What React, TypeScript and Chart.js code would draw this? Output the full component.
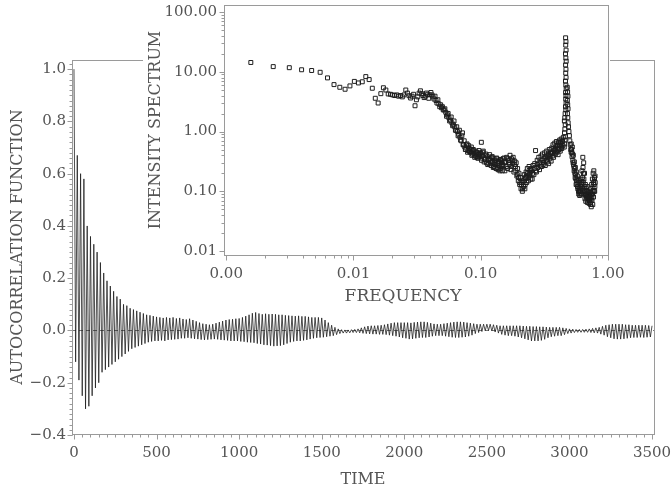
import React, { useEffect, useRef } from "react";
import { Chart, registerables } from "chart.js";

Chart.register(...registerables);

// ---------- Main chart: autocorrelation function ----------
const LAG_STEP = 10;
const acfValues = [
  1.0, -0.12, 0.67, -0.19, 0.60, -0.25, 0.58, -0.30, 0.40, -0.29,
  0.36, -0.25, 0.33, -0.22, 0.30, -0.20, 0.26, -0.16, 0.22, -0.15,
  0.19, -0.14, 0.17, -0.13, 0.15, -0.12, 0.13, -0.11, 0.12, -0.10,
  0.10, -0.09, 0.095, -0.08, 0.085, -0.07, 0.08, -0.065, 0.075, -0.06,
  0.07, -0.055, 0.065, -0.05, 0.06, -0.045, 0.058, -0.042, 0.055, -0.04,
  0.052, -0.04, 0.05, -0.038, 0.048, -0.04, 0.05, -0.036, 0.048, -0.035,
  0.05, -0.034, 0.046, -0.033, 0.048, -0.03, 0.044, -0.03, 0.042, -0.028,
  0.045, -0.03, 0.04, -0.032, 0.035, -0.033, 0.03, -0.035, 0.026, -0.036,
  0.024, -0.035, 0.022, -0.034, 0.024, -0.033, 0.028, -0.034, 0.032, -0.036,
  0.036, -0.037, 0.04, -0.038, 0.042, -0.04, 0.043, -0.04, 0.045, -0.04,
  0.046, -0.042, 0.05, -0.043, 0.055, -0.045, 0.06, -0.046, 0.066, -0.047,
  0.069, -0.05, 0.065, -0.052, 0.062, -0.055, 0.064, -0.056, 0.062, -0.058,
  0.063, -0.06, 0.062, -0.059, 0.06, -0.058, 0.06, -0.055, 0.058, -0.05,
  0.057, -0.045, 0.056, -0.042, 0.055, -0.04, 0.056, -0.04, 0.054, -0.038,
  0.054, -0.036, 0.052, -0.033, 0.05, -0.03, 0.05, -0.028, 0.05, -0.027,
  0.048, -0.026, 0.04, -0.024, 0.03, -0.022, 0.02, -0.02, 0.012, -0.016,
  0.006, -0.012, 0.003, -0.01, 0.002, -0.01, 0.002, -0.009, 0.003, -0.008,
  0.004, -0.008, 0.006, -0.009, 0.01, -0.011, 0.014, -0.012, 0.017, -0.013,
  0.018, -0.014, 0.018, -0.014, 0.019, -0.015, 0.02, -0.015, 0.022, -0.016,
  0.025, -0.018, 0.028, -0.02, 0.03, -0.022, 0.03, -0.025, 0.03, -0.028,
  0.03, -0.03, 0.03, -0.033, 0.029, -0.032, 0.031, -0.03, 0.032, -0.028,
  0.033, -0.027, 0.033, -0.027, 0.031, -0.025, 0.028, -0.022, 0.025, -0.02,
  0.024, -0.02, 0.024, -0.02, 0.026, -0.022, 0.028, -0.024, 0.03, -0.026,
  0.032, -0.027, 0.033, -0.027, 0.033, -0.026, 0.032, -0.025, 0.03, -0.022,
  0.028, -0.018, 0.026, -0.012, 0.024, -0.008, 0.024, -0.004, 0.024, -0.001,
  0.024, 0.0, 0.024, -0.002, 0.022, -0.006, 0.02, -0.01, 0.018, -0.015,
  0.018, -0.018, 0.018, -0.02, 0.018, -0.02, 0.018, -0.022, 0.018, -0.025,
  0.018, -0.028, 0.017, -0.032, 0.016, -0.036, 0.016, -0.04, 0.015, -0.04,
  0.015, -0.04, 0.014, -0.038, 0.014, -0.034, 0.013, -0.028, 0.012, -0.024,
  0.012, -0.022, 0.012, -0.02, 0.012, -0.02, 0.01, -0.016, 0.008, -0.012,
  0.006, -0.01, 0.005, -0.008, 0.004, -0.007, 0.004, -0.007, 0.004, -0.007,
  0.005, -0.007, 0.006, -0.008, 0.008, -0.009, 0.01, -0.01, 0.012, -0.014,
  0.016, -0.018, 0.02, -0.024, 0.022, -0.028, 0.024, -0.032, 0.024, -0.033,
  0.024, -0.033, 0.024, -0.032, 0.022, -0.03, 0.022, -0.028, 0.02, -0.027,
  0.02, -0.027, 0.02, -0.026, 0.02, -0.027, 0.02, -0.026, 0.019, -0.025,
  0.018,
];
const timeTicks = [0, 500, 1000, 1500, 2000, 2500, 3000, 3500];
const timeTickLabels = ["0", "500", "1000", "1500", "2000", "2500", "3000", "3500"];
const acfTicks = [-0.4, -0.2, 0, 0.2, 0.4, 0.6, 0.8, 1.0];
const acfTickLabels = ["\u22120.4", "\u22120.2", "0.0", "0.2", "0.4", "0.6", "0.8", "1.0"];

// ---------- Inset: intensity spectrum ----------
const specFreq = [
  // low frequencies
  0.00156, 0.00234, 0.00313, 0.00391, 0.00469, 0.00547, 0.00625, 0.00703, 0.00781, 0.00859,
  0.00938, 0.01016, 0.01094, 0.01172, 0.0125, 0.01328, 0.01406, 0.01484, 0.01563, 0.01641,
  0.01719, 0.01797, 0.01875, 0.01953, 0.02031, 0.02109, 0.02188, 0.02266, 0.02344, 0.02422,
  // 0.025 - 0.05
  0.025, 0.02578, 0.02656, 0.02734, 0.02813, 0.02891, 0.02969, 0.03047, 0.03125, 0.03203,
  0.03281, 0.03359, 0.03438, 0.03516, 0.03594, 0.03672, 0.0375, 0.03828, 0.03906, 0.03984,
  0.04063, 0.04141, 0.04219, 0.04297, 0.04375, 0.04453, 0.04531, 0.04609, 0.04688, 0.04766,
  0.04844, 0.04922,
  // 0.05 - 0.1
  0.05, 0.05156, 0.05313, 0.05469, 0.05625, 0.05781, 0.05938, 0.06094, 0.0625, 0.06406,
  0.06563, 0.06719, 0.06875, 0.07031, 0.07188, 0.07344, 0.075, 0.07656, 0.07813, 0.07969,
  0.08125, 0.08281, 0.08438, 0.08594, 0.0875, 0.08906, 0.09063, 0.09219, 0.09375, 0.09531,
  0.09688, 0.09844,
  // 0.1 - 0.15
  0.1012, 0.1, 0.1016, 0.1032, 0.1048, 0.1064, 0.108, 0.1096, 0.1112, 0.1128,
  0.1144, 0.116, 0.1176, 0.1192, 0.1208, 0.1224, 0.124, 0.1256, 0.1272, 0.1288,
  0.1304, 0.132, 0.1336, 0.1352, 0.1368, 0.1384, 0.14, 0.1416, 0.1432, 0.1448,
  0.1464, 0.148, 0.1496,
  // 0.15 - 0.25
  0.15, 0.1525, 0.155, 0.1575, 0.16, 0.1625, 0.165, 0.1675, 0.17, 0.1725,
  0.175, 0.1775, 0.18, 0.1825, 0.185, 0.1875, 0.19, 0.1925, 0.195, 0.1975,
  0.2, 0.2025, 0.205, 0.2075, 0.21, 0.2125, 0.215, 0.2175, 0.22, 0.2225,
  0.225, 0.2275, 0.23, 0.2325, 0.235, 0.2375, 0.24, 0.2425, 0.245, 0.2475,
  // 0.25 - 0.45
  0.25, 0.254, 0.258, 0.262, 0.266, 0.27, 0.274, 0.278, 0.282, 0.286,
  0.29, 0.294, 0.298, 0.302, 0.306, 0.31, 0.314, 0.318, 0.322, 0.326,
  0.33, 0.334, 0.338, 0.342, 0.346, 0.35, 0.354, 0.358, 0.362, 0.366,
  0.37, 0.374, 0.378, 0.382, 0.386, 0.39, 0.394, 0.398, 0.402, 0.406,
  0.41, 0.414, 0.418, 0.422, 0.426, 0.43, 0.434, 0.438, 0.442, 0.446,
  // peak, rising side
  0.465, 0.468, 0.466, 0.469, 0.464, 0.467, 0.47, 0.465, 0.468, 0.466,
  0.469, 0.464, 0.467, 0.47, 0.465, 0.468, 0.466, 0.469, 0.464, 0.467,
  0.461, 0.458, 0.455, 0.462, 0.459, 0.456, 0.463, 0.46, 0.457, 0.454,
  // peak, falling side
  0.479, 0.482, 0.485, 0.48, 0.483, 0.486, 0.481, 0.484, 0.487, 0.49,
  0.494, 0.498, 0.502, 0.506, 0.51, 0.514,
  // high frequencies
  0.515, 0.52, 0.525, 0.53, 0.535, 0.54, 0.545, 0.55, 0.555, 0.56,
  0.565, 0.57, 0.575, 0.58, 0.585, 0.59, 0.595, 0.6, 0.605, 0.61,
  0.615, 0.62, 0.625, 0.63, 0.635, 0.64, 0.645, 0.65, 0.655, 0.66,
  0.665, 0.67, 0.675, 0.68, 0.685, 0.69, 0.695, 0.7, 0.705, 0.71,
  0.715, 0.72, 0.725, 0.73, 0.735, 0.74, 0.745, 0.75, 0.755, 0.76,
  0.765, 0.77, 0.775, 0.78, 0.785, 0.79, 0.795,
  // in-between estimates, 0.05 - 0.1
  0.0508, 0.0523, 0.0539, 0.0555, 0.057, 0.0586, 0.0602, 0.0617, 0.0633, 0.0648,
  0.0664, 0.068, 0.0695, 0.0711, 0.0727, 0.0742, 0.0758, 0.0773, 0.0789, 0.0805,
  0.082, 0.0836, 0.0852, 0.0867, 0.0883, 0.0898, 0.0914, 0.093, 0.0945, 0.0961,
  0.0977, 0.0992,
  // in-between estimates, 0.1 - 0.45
  0.1008, 0.104, 0.1072, 0.1104, 0.1136, 0.1168, 0.12, 0.1232, 0.1264, 0.1296,
  0.1328, 0.136, 0.1392, 0.1424, 0.1456, 0.1488, 0.1538, 0.1588, 0.1638, 0.1688,
  0.1738, 0.1788, 0.1838, 0.1888, 0.1938, 0.1988, 0.2038, 0.2088, 0.2138, 0.2188,
  0.2238, 0.2288, 0.2338, 0.2388, 0.2438, 0.2488, 0.256, 0.264, 0.272, 0.28,
  0.288, 0.296, 0.304, 0.312, 0.32, 0.328, 0.336, 0.344, 0.352, 0.36,
  0.368, 0.376, 0.384, 0.392, 0.4, 0.408, 0.416, 0.424, 0.432, 0.44,
  // in-between estimates, 0.5 - 0.8
  0.5175, 0.5225, 0.5275, 0.5325, 0.5375, 0.5425, 0.5475, 0.5525, 0.5575, 0.5625,
  0.5675, 0.5725, 0.5775, 0.5825, 0.5875, 0.5925, 0.5975, 0.6025, 0.6075, 0.6125,
  0.6175, 0.6225, 0.6275, 0.6325, 0.6375, 0.6425, 0.6475, 0.6525, 0.6575, 0.6625,
  0.6675, 0.6725, 0.6775, 0.6825, 0.6875, 0.6925, 0.6975, 0.7025, 0.7075, 0.7125,
  0.7175, 0.7225, 0.7275, 0.7325, 0.7375, 0.7425, 0.7475, 0.7525, 0.7575, 0.7625,
  0.7675, 0.7725, 0.7775, 0.7825, 0.7875, 0.7925,
];
const specPower = [
  // low frequencies
  14.3, 12.2, 11.7, 10.8, 10.5, 9.8, 7.9, 6.1, 5.5, 5.1,
  5.8, 6.9, 6.5, 6.8, 8.3, 7.4, 5.3, 3.6, 3.0, 4.3,
  5.4, 4.95, 4.25, 4.2, 4.1, 4.0, 4.1, 3.9, 4.0, 3.8,
  // 0.025 - 0.05
  4.1, 4.95, 4.4, 3.97, 3.64, 3.9, 4.2, 2.7, 3.4, 3.8,
  4.4, 4.8, 4.3, 4.0, 3.7, 3.9, 4.4, 4.2, 3.6, 4.1,
  4.5, 4.1, 3.8, 3.5, 3.9, 3.3, 3.0, 3.4, 2.9, 2.6,
  2.8, 2.5,
  // 0.05 - 0.1
  2.6, 2.3, 2.1, 1.9, 1.7, 1.55, 1.4, 1.3, 1.2, 1.05,
  1.0, 0.9, 0.8, 0.7, 0.95, 0.6, 0.55, 0.5, 0.62, 0.48,
  0.52, 0.45, 0.55, 0.42, 0.5, 0.4, 0.47, 0.38, 0.44, 0.36,
  0.48, 0.4,
  // 0.1 - 0.15
  0.66, 0.44, 0.33, 0.39, 0.47, 0.31, 0.36, 0.42, 0.3, 0.38,
  0.34, 0.29, 0.41, 0.33, 0.27, 0.37, 0.31, 0.25, 0.35, 0.28,
  0.33, 0.24, 0.36, 0.29, 0.23, 0.32, 0.27, 0.22, 0.34, 0.26,
  0.3, 0.22, 0.35,
  // 0.15 - 0.25
  0.27, 0.36, 0.22, 0.31, 0.37, 0.24, 0.33, 0.28, 0.4, 0.23,
  0.35, 0.29, 0.37, 0.21, 0.32, 0.26, 0.3, 0.18, 0.24, 0.15,
  0.2, 0.13, 0.17, 0.11, 0.15, 0.1, 0.14, 0.12, 0.19, 0.11,
  0.17, 0.21, 0.14, 0.24, 0.18, 0.15, 0.26, 0.19, 0.23, 0.16,
  // 0.25 - 0.45
  0.22, 0.16, 0.27, 0.19, 0.29, 0.48, 0.21, 0.33, 0.25, 0.37,
  0.23, 0.3, 0.39, 0.26, 0.42, 0.28, 0.35, 0.44, 0.27, 0.38,
  0.47, 0.31, 0.4, 0.29, 0.5, 0.35, 0.44, 0.32, 0.53, 0.39,
  0.6, 0.37, 0.48, 0.64, 0.42, 0.55, 0.68, 0.45, 0.58, 0.41,
  0.66, 0.5, 0.72, 0.47, 0.62, 0.75, 0.52, 0.68, 0.58, 0.8,
  // peak, rising side
  37, 32, 28, 23, 20, 17, 15, 13, 11, 9.5,
  8, 7, 6, 5.2, 4.5, 4, 3.5, 3, 2.6, 2.3,
  2.0, 1.7, 1.5, 1.3, 1.1, 0.95, 0.82, 0.72, 0.62, 0.55,
  // peak, falling side
  5.5, 4.6, 3.9, 3.3, 2.8, 2.4, 2.0, 1.7, 1.4, 1.2,
  1.0, 0.85, 0.7, 0.6, 0.5, 0.45,
  // high frequencies
  0.62, 0.45, 0.55, 0.33, 0.4, 0.26, 0.31, 0.2, 0.25, 0.16,
  0.21, 0.13, 0.18, 0.11, 0.15, 0.09, 0.14, 0.085, 0.12, 0.1,
  0.16, 0.09, 0.22, 0.11, 0.37, 0.14, 0.3, 0.09, 0.2, 0.075,
  0.13, 0.068, 0.11, 0.08, 0.12, 0.065, 0.1, 0.075, 0.09, 0.063,
  0.085, 0.07, 0.095, 0.06, 0.11, 0.055, 0.13, 0.07, 0.16, 0.06,
  0.2, 0.08, 0.22, 0.1, 0.17, 0.12, 0.14,
  // in-between estimates, 0.05 - 0.1
  2.3, 2.4, 1.8, 2.0, 1.5, 1.75, 1.25, 1.5, 1.05, 1.2,
  0.85, 1.05, 0.72, 0.85, 0.6, 0.7, 0.5, 0.6, 0.45, 0.58,
  0.46, 0.5, 0.4, 0.48, 0.44, 0.37, 0.42, 0.45, 0.36, 0.41,
  0.38, 0.43,
  // in-between estimates, 0.1 - 0.45
  0.36, 0.45, 0.34, 0.4, 0.28, 0.35, 0.3, 0.38, 0.26, 0.31,
  0.35, 0.25, 0.3, 0.24, 0.33, 0.28, 0.3, 0.26, 0.35, 0.3,
  0.26, 0.33, 0.28, 0.22, 0.19, 0.17, 0.14, 0.13, 0.11, 0.15,
  0.13, 0.18, 0.2, 0.17, 0.21, 0.24, 0.2, 0.24, 0.22, 0.28,
  0.3, 0.26, 0.33, 0.3, 0.36, 0.33, 0.37, 0.41, 0.38, 0.45,
  0.43, 0.52, 0.5, 0.46, 0.6, 0.52, 0.58, 0.65, 0.55, 0.7,
  // in-between estimates, 0.5 - 0.8
  0.5, 0.38, 0.42, 0.3, 0.28, 0.22, 0.24, 0.17, 0.19, 0.13,
  0.15, 0.16, 0.12, 0.13, 0.1, 0.12, 0.1, 0.11, 0.09, 0.13,
  0.12, 0.14, 0.13, 0.17, 0.25, 0.2, 0.16, 0.12, 0.1, 0.1,
  0.09, 0.085, 0.09, 0.1, 0.08, 0.09, 0.08, 0.085, 0.07, 0.075,
  0.07, 0.08, 0.065, 0.08, 0.07, 0.09, 0.08, 0.1, 0.09, 0.12,
  0.1, 0.14, 0.13, 0.16, 0.1, 0.18,
];
const freqTicks = [0.001, 0.01, 0.1, 1];
const freqTickLabels = ["0.00", "0.01", "0.10", "1.00"];
const powerTicks = [0.01, 0.1, 1, 10, 100];
const powerTickLabels = ["0.01", "0.10", "1.00", "10.00", "100.00"];

const FONT = '"DejaVu Serif", "Liberation Serif", serif';
const TEXT_COLOR = "#555";
const FRAME_COLOR = "#9a9a9a";

type FramePluginCfg = {
  xMajor: number[];
  xLabels: string[];
  xMinor: number[];
  yMajor: number[];
  yLabels: string[];
  yMinor: number[];
  xLabelOffset: number;
  yLabelOffset: number;
  xTitle: string;
  yTitle: string;
  xTitlePos: [number, number];
  yTitlePos: [number, number];
  xTitleSize: number;
  yTitleSize: number;
  zeroLine?: boolean;
  whiteBox?: [number, number, number, number];
};

function makeFramePlugin(id: string, cfg: FramePluginCfg) {
  return {
    id,
    beforeDraw(chart: any) {
      if (!cfg.whiteBox) return;
      const ctx = chart.ctx;
      ctx.save();
      ctx.fillStyle = "#fff";
      ctx.fillRect(cfg.whiteBox[0], cfg.whiteBox[1], cfg.whiteBox[2], cfg.whiteBox[3]);
      ctx.restore();
    },
    beforeDatasetsDraw(chart: any) {
      if (!cfg.zeroLine) return;
      const { left, right } = chart.chartArea;
      const y0 = Math.round(chart.scales.y.getPixelForValue(0)) + 0.5;
      const ctx = chart.ctx;
      ctx.save();
      ctx.strokeStyle = "#777";
      ctx.lineWidth = 1;
      ctx.setLineDash([4, 3]);
      ctx.beginPath();
      ctx.moveTo(left, y0);
      ctx.lineTo(right, y0);
      ctx.stroke();
      ctx.restore();
    },
    afterDraw(chart: any) {
      const ctx = chart.ctx;
      const { left, right, top, bottom } = chart.chartArea;
      const xs = chart.scales.x;
      const ys = chart.scales.y;
      ctx.save();
      ctx.strokeStyle = FRAME_COLOR;
      ctx.lineWidth = 1;
      const L = Math.round(left) + 0.5;
      const R = Math.round(right) - 0.5;
      const T = Math.round(top) + 0.5;
      const B = Math.round(bottom) - 0.5;
      ctx.strokeRect(L, T, R - L, B - T);
      ctx.beginPath();
      for (const v of cfg.xMajor) {
        const p = Math.round(xs.getPixelForValue(v)) + 0.5;
        ctx.moveTo(p, B);
        ctx.lineTo(p, B + 5);
      }
      for (const v of cfg.xMinor) {
        const p = Math.round(xs.getPixelForValue(v)) + 0.5;
        ctx.moveTo(p, B);
        ctx.lineTo(p, B + 3);
      }
      for (const v of cfg.yMajor) {
        const p = Math.round(ys.getPixelForValue(v)) + 0.5;
        ctx.moveTo(L, p);
        ctx.lineTo(L - 5, p);
      }
      for (const v of cfg.yMinor) {
        const p = Math.round(ys.getPixelForValue(v)) + 0.5;
        ctx.moveTo(L, p);
        ctx.lineTo(L - 3, p);
      }
      ctx.stroke();

      ctx.fillStyle = TEXT_COLOR;
      ctx.font = `15px ${FONT}`;
      ctx.textAlign = "center";
      ctx.textBaseline = "middle";
      cfg.xMajor.forEach((v, i) => {
        ctx.fillText(cfg.xLabels[i], xs.getPixelForValue(v), bottom + cfg.xLabelOffset);
      });
      ctx.textAlign = "right";
      cfg.yMajor.forEach((v, i) => {
        ctx.fillText(cfg.yLabels[i], left - cfg.yLabelOffset, ys.getPixelForValue(v));
      });

      ctx.textAlign = "center";
      ctx.font = `${cfg.xTitleSize}px ${FONT}`;
      ctx.fillText(cfg.xTitle, cfg.xTitlePos[0], cfg.xTitlePos[1]);
      ctx.save();
      ctx.font = `${cfg.yTitleSize}px ${FONT}`;
      ctx.translate(cfg.yTitlePos[0], cfg.yTitlePos[1]);
      ctx.rotate(-Math.PI / 2);
      ctx.fillText(cfg.yTitle, 0, 0);
      ctx.restore();
      ctx.restore();
    },
  };
}

function linearMinor(from: number, to: number, step: number): number[] {
  const out: number[] = [];
  const n = Math.round((to - from) / step);
  for (let i = 0; i <= n; i++) out.push(+(from + i * step).toFixed(6));
  return out;
}

function logMinor(decades: number[]): number[] {
  const out: number[] = [];
  for (const d of decades) for (let m = 2; m <= 9; m++) out.push(d * m);
  return out;
}

const INSET_LEFT = 143;
const INSET_BOX_W = 467;
const INSET_CANVAS_W = 497;
const INSET_H = 306;

export default function App() {
  const mainRef = useRef<HTMLCanvasElement>(null);
  const insetRef = useRef<HTMLCanvasElement>(null);

  useEffect(() => {
    const mainData = acfValues.map((v, i) => ({ x: i * LAG_STEP, y: v }));
    const main = new Chart(mainRef.current!, {
      type: "line",
      data: {
        datasets: [
          {
            data: mainData,
            borderColor: "rgba(25,25,25,0.9)",
            borderWidth: 0.85,
            pointRadius: 0,
            tension: 0,
            fill: false,
          },
        ],
      },
      options: {
        animation: false,
        responsive: false,
        devicePixelRatio: 1,
        layout: { padding: { left: 72, top: 60, right: 16, bottom: 59 } },
        scales: {
          x: { type: "linear", min: -12, max: 3518, display: false },
          y: { type: "linear", min: -0.4, max: 1.035, display: false },
        },
        plugins: { legend: { display: false }, tooltip: { enabled: false } },
      },
      plugins: [
        makeFramePlugin("mainFrame", {
          xMajor: timeTicks,
          xLabels: timeTickLabels,
          xMinor: linearMinor(0, 3500, 50),
          yMajor: acfTicks,
          yLabels: acfTickLabels,
          yMinor: linearMinor(-0.4, 1.02, 0.02),
          xLabelOffset: 18,
          yLabelOffset: 6,
          xTitle: "TIME",
          yTitle: "AUTOCORRELATION FUNCTION",
          xTitlePos: [363, 480],
          yTitlePos: [18, 247],
          xTitleSize: 16,
          yTitleSize: 16,
          zeroLine: true,
        }) as any,
      ],
    } as any);

    const n = Math.min(specFreq.length, specPower.length);
    const specData = specFreq.slice(0, n).map((f, i) => ({ x: f, y: specPower[i] }));
    const inset = new Chart(insetRef.current!, {
      type: "scatter",
      data: {
        datasets: [
          {
            data: specData,
            pointStyle: "rect",
            pointRadius: 2.8,
            borderWidth: 1,
            borderColor: "#1e1e1e",
            backgroundColor: "rgba(0,0,0,0)",
          },
        ],
      },
      options: {
        animation: false,
        responsive: false,
        devicePixelRatio: 1,
        layout: { padding: { left: 81, top: 5, right: INSET_CANVAS_W - INSET_BOX_W + 1, bottom: 50 } },
        scales: {
          x: { type: "logarithmic", min: 0.00096, max: 1.02, display: false },
          y: { type: "logarithmic", min: 0.00826, max: 131, display: false },
        },
        plugins: { legend: { display: false }, tooltip: { enabled: false } },
      },
      plugins: [
        makeFramePlugin("insetFrame", {
          xMajor: freqTicks,
          xLabels: freqTickLabels,
          xMinor: logMinor([0.001, 0.01, 0.1]),
          yMajor: powerTicks,
          yLabels: powerTickLabels,
          yMinor: logMinor([0.01, 0.1, 1, 10]),
          xLabelOffset: 18,
          yLabelOffset: 7,
          xTitle: "FREQUENCY",
          yTitle: "INTENSITY SPECTRUM",
          xTitlePos: [260, 297],
          yTitlePos: [13, 130],
          xTitleSize: 17,
          yTitleSize: 16,
          whiteBox: [0, 0, INSET_BOX_W, INSET_H],
        }) as any,
      ],
    } as any);

    return () => {
      main.destroy();
      inset.destroy();
    };
  }, []);

  return (
    <div
      style={{
        position: "fixed",
        left: 0,
        top: 0,
        width: 671,
        height: 494,
        background: "#fff",
        overflow: "hidden",
      }}
    >
      <canvas
        ref={mainRef}
        width={671}
        height={494}
        style={{ position: "absolute", left: 0, top: 0, width: 671, height: 494 }}
      />
      <canvas
        ref={insetRef}
        width={INSET_CANVAS_W}
        height={INSET_H}
        style={{ position: "absolute", left: INSET_LEFT, top: 0, width: INSET_CANVAS_W, height: INSET_H }}
      />
    </div>
  );
}
